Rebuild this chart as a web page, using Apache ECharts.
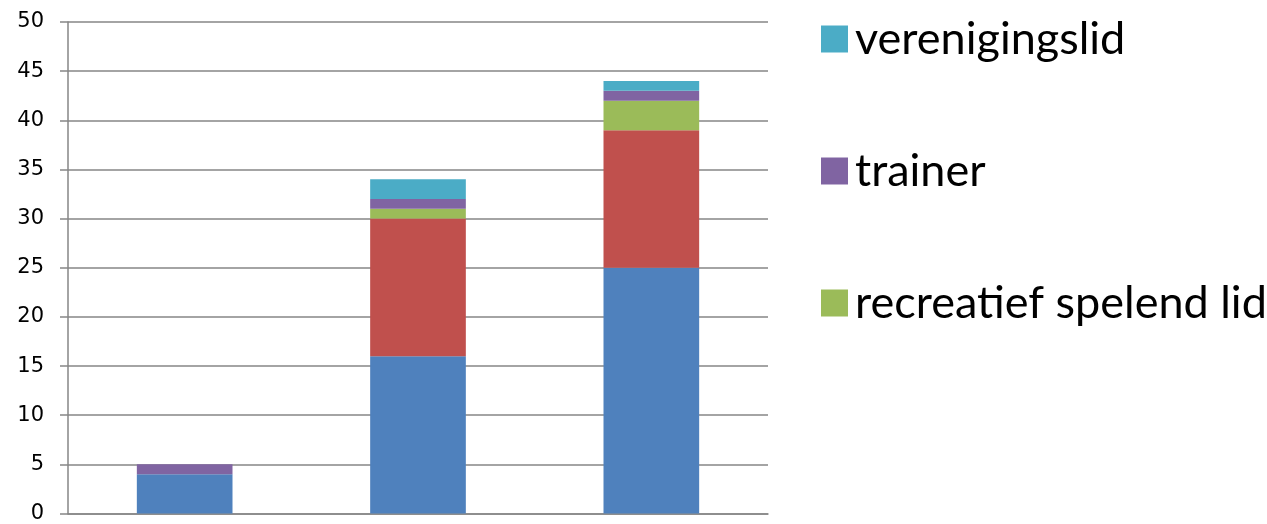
<!DOCTYPE html>
<html><head><meta charset="utf-8">
<script src="https://cdn.jsdelivr.net/npm/echarts@6/dist/echarts.min.js"></script>
<style>html,body{margin:0;padding:0;background:#fff}#c{width:1267px;height:524px}</style>
</head><body><div id="c"></div>
<script>
var categories = ['1', '2', '3'];
var seriesNames = ['competitie spelend lid', 'jeugdlid', 'recreatief spelend lid', 'trainer', 'verenigingslid'];
var blueValues = [4, 16, 25];
var redValues = [0, 14, 14];
var greenValues = [0, 1, 3];
var purpleValues = [1, 1, 1];
var cyanValues = [0, 2, 1];
var yTicks = [0, 50, 5];
var legendShown = ['verenigingslid', 'trainer', 'recreatief spelend lid'];

var colors = ['#4F81BD', '#C0504D', '#9BBB59', '#8064A2', '#4BACC6'];
var values = [blueValues, redValues, greenValues, purpleValues, cyanValues];
var chart = echarts.init(document.getElementById('c'));
chart.setOption({
  animation: false,
  grid: {left: 68, right: 499, top: 22, bottom: 9, containLabel: false},
  legend: {
    data: legendShown,
    orient: 'vertical', left: 816, top: 8,
    itemWidth: 27, itemHeight: 27, itemGap: 80, icon: 'rect',
    textStyle: {fontFamily: 'Lato', fontSize: 45, color: '#000', lineHeight: 52, padding: [0,0,0,2]},
    selectedMode: false
  },
  xAxis: {
    type: 'category', data: categories,
    axisLine: {lineStyle: {color: '#868686', width: 1.5}},
    axisTick: {show: false}, axisLabel: {show: false}
  },
  yAxis: {
    type: 'value', min: yTicks[0], max: yTicks[1], interval: yTicks[2],
    axisLine: {show: true, lineStyle: {color: '#868686', width: 1.5}},
    axisTick: {show: true, length: 8, lineStyle: {color: '#868686', width: 1.5}},
    axisLabel: {fontFamily: 'DejaVu Sans', fontSize: 21, color: '#000', margin: 24},
    splitLine: {lineStyle: {color: '#868686', width: 1.5}}
  },
  series: seriesNames.map(function (n, i) {
    return {name: n, type: 'bar', stack: 'a', data: values[i], barWidth: '41%',
      itemStyle: {color: colors[i]}};
  })
});
</script></body></html>
